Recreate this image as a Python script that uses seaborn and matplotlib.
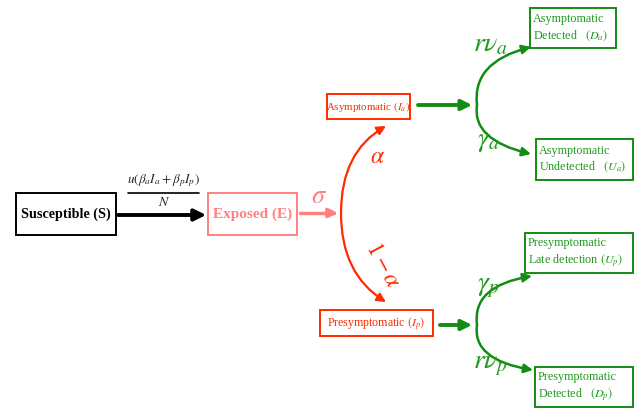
import matplotlib
matplotlib.use("Agg")
import matplotlib.pyplot as plt
import seaborn as sns
from matplotlib.patches import FancyArrowPatch, Rectangle
from matplotlib.path import Path

# ========== Datos del diagrama ==========
node_names = ["S", "E", "Ia", "Ip", "Da", "Ua", "Up", "Dp"]
node_labels = ["Susceptible (S)", "Exposed (E)",
               r"Asymptomatic $(I_a)$", r"Presymptomatic $(I_p)$",
               "Asymptomatic\n" + r"Detected   $(D_a)$",
               "Asymptomatic\n" + r"Undetected   $(U_a)$",
               "Presymptomatic\n" + r"Late detection $(U_p)$",
               "Presymptomatic\n" + r"Detected   $(D_p)$"]
rate_labels = {"sigma": r"$\sigma$", "alpha": r"$\alpha$", "one_alpha": r"$1-\alpha$",
               "rnu_a": r"$r\nu_a$", "gamma_a": r"$\gamma_a$",
               "gamma_p": r"$\gamma_p$", "rnu_p": r"$r\nu_p$"}

BLACK = "#000000"
SALMON = "#ff8080"
RED = "#ff2a00"
GREEN = "#138c13"
GREEN_TXT = "#1f9a1f"

# ---------- Estilo ----------
sns.set_theme(style="white")
plt.rcParams["font.family"] = ["Liberation Serif", "DejaVu Serif"]
plt.rcParams["mathtext.fontset"] = "stix"

fig = plt.figure(figsize=(6.41, 4.12), dpi=100)
ax = fig.add_axes([0, 0, 1, 1])
ax.set_xlim(0, 641)
ax.set_ylim(412, 0)
ax.axis("off")

# ---------- Cajas (x0, y0, x1, y1, color borde, color texto, tamaño, negrita) ----------
boxes = {
    "S": (16, 193, 116, 235, BLACK, BLACK, 10.2, "bold"),
    "E": (208, 193, 297, 235, SALMON, SALMON, 11, "bold"),
    "Ia": (327, 94, 410, 119, RED, RED, 7.9, "normal"),
    "Ip": (320, 310, 433, 336, RED, RED, 8.6, "normal"),
    "Da": (530, 8, 616, 48, GREEN, GREEN_TXT, 8.7, "normal"),
    "Ua": (536, 139, 633, 180, GREEN, GREEN_TXT, 8.7, "normal"),
    "Up": (525, 233, 633, 273, GREEN, GREEN_TXT, 8.7, "normal"),
    "Dp": (535, 367, 633, 407, GREEN, GREEN_TXT, 8.7, "normal"),
}

for name, label in zip(node_names, node_labels):
    x0, y0, x1, y1, col, tcol, fs, fw = boxes[name]
    ax.add_patch(Rectangle((x0, y0), x1 - x0, y1 - y0, fill=False,
                           edgecolor=col, lw=1.4))
    if "\n" in label:
        ax.text(x0 + 3, (y0 + y1) / 2, label, color=tcol, fontsize=fs,
                fontweight=fw, ha="left", va="center", linespacing=1.25)
    else:
        ax.text((x0 + x1) / 2, (y0 + y1) / 2, label, color=tcol, fontsize=fs,
                fontweight=fw, ha="center", va="center")


def flecha(p0, p1, col, lw=2.5, ctrl=None, ms=14):
    if ctrl is None:
        path = Path([p0, p1], [Path.MOVETO, Path.LINETO])
    else:
        path = Path([p0, ctrl, p1], [Path.MOVETO, Path.CURVE3, Path.CURVE3])
    ax.add_patch(FancyArrowPatch(path=path, arrowstyle="-|>", color=col,
                                 lw=lw, mutation_scale=ms))


# ---------- Flechas ----------
flecha((118, 215), (206, 215), BLACK, lw=2.8, ms=17)
ax.plot([128, 199], [193, 193], color=BLACK, lw=1.2)
ax.text(164, 189, r"$u(\beta_a I_a+\beta_p I_p)$", fontsize=9.5, ha="center", va="bottom")
ax.text(164, 196, r"$N$", fontsize=10, ha="center", va="top")

flecha((300, 213), (338, 213), SALMON, lw=2.5, ms=13)
ax.text(319, 197, rate_labels["sigma"], color=SALMON, fontsize=19, ha="center", va="center")

# rama roja
flecha((341, 213), (386, 126), RED, lw=1.6, ctrl=(341, 152), ms=13)
flecha((341, 213), (386, 302), RED, lw=1.6, ctrl=(341, 274), ms=13)
ax.text(377, 157, rate_labels["alpha"], color=RED, fontsize=17, ha="center", va="center")
ax.text(382, 265, rate_labels["one_alpha"], color=RED, fontsize=17, ha="center",
        va="center", rotation=-62)

# ramas verdes superiores
flecha((418, 105), (472, 105), GREEN, lw=2.8, ms=15)
flecha((477, 105), (531, 47), GREEN, lw=1.8, ctrl=(472, 62), ms=13)
flecha((477, 105), (531, 154), GREEN, lw=1.8, ctrl=(472, 140), ms=13)
ax.text(491, 45, rate_labels["rnu_a"], color=GREEN_TXT, fontsize=20, ha="center", va="center")
ax.text(488, 142, rate_labels["gamma_a"], color=GREEN_TXT, fontsize=20, ha="center", va="center")

# ramas verdes inferiores
flecha((440, 325), (472, 325), GREEN, lw=2.8, ms=15)
flecha((477, 325), (532, 276), GREEN, lw=1.8, ctrl=(472, 286), ms=13)
flecha((477, 325), (533, 370), GREEN, lw=1.8, ctrl=(472, 360), ms=13)
ax.text(488, 287, rate_labels["gamma_p"], color=GREEN_TXT, fontsize=20, ha="center", va="center")
ax.text(491, 366, rate_labels["rnu_p"], color=GREEN_TXT, fontsize=20, ha="center", va="center")

fig.savefig("out.png", dpi=100)
